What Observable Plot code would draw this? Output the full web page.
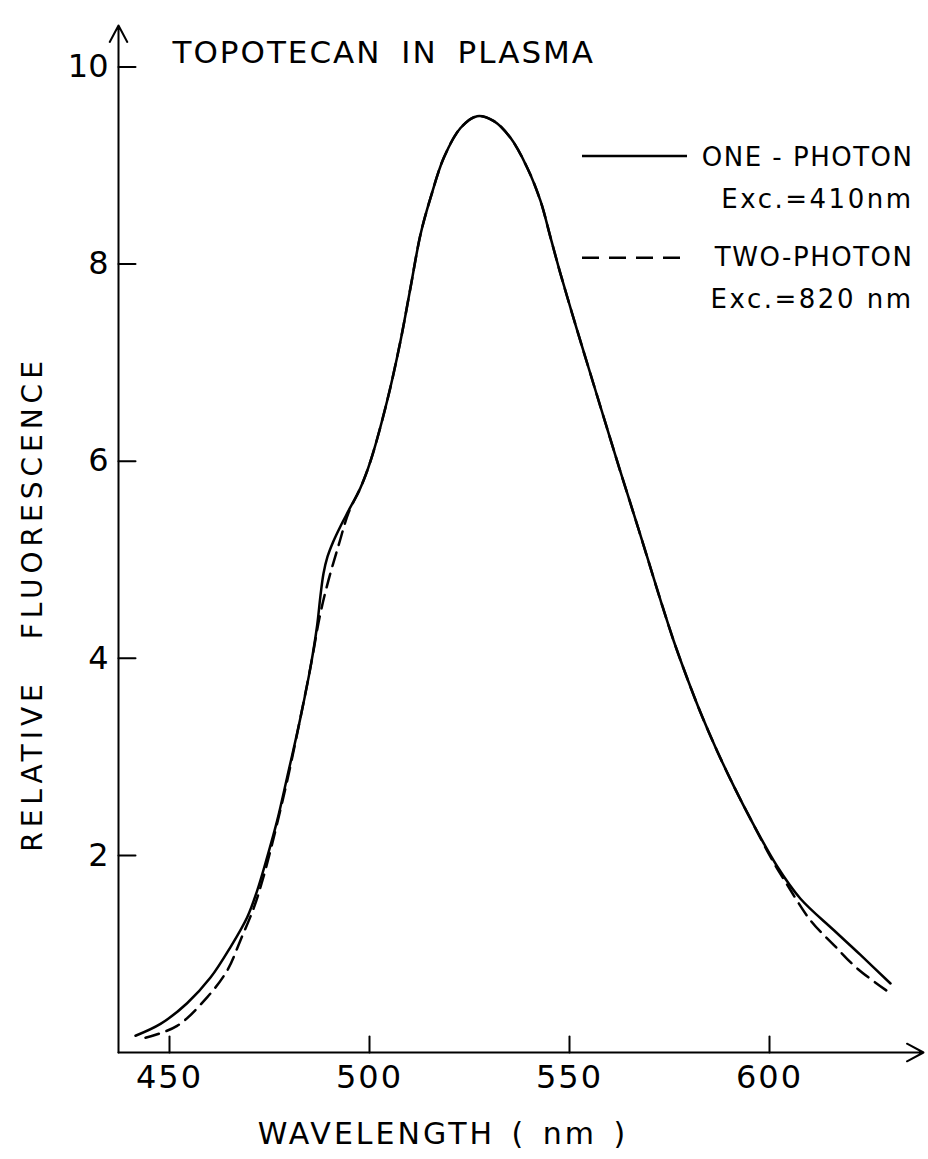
<!DOCTYPE html>
<html><head><meta charset="utf-8">
<script src="https://cdn.jsdelivr.net/npm/d3@7"></script>
<script src="https://cdn.jsdelivr.net/npm/@observablehq/plot@0.6"></script>
<style>body{margin:0;background:#fff} svg{display:block}</style>
</head><body><div id="chart"></div>
<script>
// ---- data ----
const onePhotonNm = [441.5,447.75,454.4,460.25,465.25,469.4,471.9,474.4,476.9,479.4,482.75,485.25,486.9,487.7,488.5,489.5,490.9,492.75,494.8,497.75,500.25,504.4,507.75,510.25,512.75,515.25,518.6,522.75,526.9,531.1,535.25,539.4,542.75,545.25,547.75,551.9,556.1,559.8,562.75,566.1,569.4,572.75,576.1,579.4,582.75,586.9,591.1,595.25,601.9,607.75,616.1,622.75,630.25];
const onePhotonValue = [0.17,0.29,0.50,0.76,1.07,1.37,1.64,1.98,2.35,2.79,3.40,3.91,4.33,4.62,4.86,5.03,5.18,5.34,5.50,5.73,6.00,6.61,7.22,7.76,8.30,8.67,9.08,9.38,9.50,9.45,9.28,8.98,8.64,8.27,7.90,7.33,6.77,6.28,5.89,5.46,5.03,4.59,4.17,3.80,3.45,3.06,2.70,2.37,1.89,1.56,1.24,0.99,0.70];
const twoPhotonNm = [444,451.9,459.4,464.4,467.75,471.1,473.2,475.25,477.3,479.6,482.75,485.25,487.7,489.8,492.3,494.8,497.75,500.25,504.4,507.75,510.25,512.75,515.25,518.6,522.75,526.9,531.1,535.25,539.4,542.75,545.25,547.75,551.9,556.1,559.8,562.75,566.1,569.4,572.75,576.1,579.4,582.75,586.9,591.1,595.25,601,604,610.25,616.1,622,630.25];
const twoPhotonValue = [0.15,0.27,0.56,0.83,1.14,1.47,1.74,2.05,2.39,2.79,3.40,3.91,4.45,4.80,5.15,5.48,5.73,6.00,6.61,7.22,7.76,8.30,8.67,9.08,9.38,9.50,9.45,9.28,8.98,8.64,8.27,7.90,7.33,6.77,6.28,5.89,5.46,5.03,4.59,4.17,3.80,3.45,3.06,2.70,2.37,1.93,1.73,1.34,1.09,0.85,0.60];
const xTicks = [450, 500, 550, 600];
const yTicks = [2, 4, 6, 8, 10];
const titleText = "TOPOTECAN IN PLASMA";
const xTitle = "WAVELENGTH ( nm )";
const yTitle = "RELATIVE FLUORESCENCE";
const legendNames = ["ONE - PHOTON", "TWO-PHOTON"];
const legendSubs = ["Exc.=410nm", "Exc.=820 nm"];

// ---- build tables ----
const one = onePhotonNm.map((x, i) => ({x, y: onePhotonValue[i]}));
const two = twoPhotonNm.map((x, i) => ({x, y: twoPhotonValue[i]}));

const xDomain = [437.25, 638.5];
const yDomain = [0, 10.42];
const FONT = "DejaVu Sans";
const tickShape = {draw(context, l) { context.moveTo(0, 0); context.lineTo(0, -l); }};
const legendText = (label, dy) => Plot.text([label], {
  text: d => d, frameAnchor: "top-right", dx: -10, dy, textAnchor: "end", lineAnchor: "middle", fontSize: 26, fill: "#000"
});

const svg = Plot.plot({
  width: 928, height: 1159,
  marginLeft: 118, marginRight: 5, marginTop: 25, marginBottom: 107,
  x: {domain: xDomain, axis: null},
  y: {domain: yDomain, axis: null},
  style: {fontFamily: FONT, color: "#000", background: "#fff", overflow: "visible"},
  marks: [
    // axes with arrowheads
    Plot.arrow([0], {x1: xDomain[0], y1: 0, x2: xDomain[1], y2: 0, stroke: "#000", strokeWidth: 2, headLength: 14, headAngle: 56}),
    Plot.arrow([0], {x1: xDomain[0], y1: 0, x2: xDomain[0], y2: yDomain[1], stroke: "#000", strokeWidth: 2, headLength: 14, headAngle: 56}),
    // inward ticks
    Plot.vector(xTicks, {x: d => d, y: 0, length: 16, rotate: 0, anchor: "start", shape: tickShape, stroke: "#000", strokeWidth: 2}),
    Plot.vector(yTicks, {x: xDomain[0], y: d => d, length: 17, rotate: 90, anchor: "start", shape: tickShape, stroke: "#000", strokeWidth: 2}),
    // tick labels
    Plot.text(xTicks, {x: d => d, y: 0, text: d => String(d), dy: 25, lineAnchor: "middle", fontSize: 32, fill: "#000"}),
    Plot.text(yTicks, {x: xDomain[0], y: d => d, text: d => String(d), dx: -10, textAnchor: "end", lineAnchor: "middle", fontSize: 32, fill: "#000"}),
    // curves
    Plot.line(one, {x: "x", y: "y", stroke: "#000", strokeWidth: 2.5, curve: "catmull-rom"}),
    Plot.line(two, {x: "x", y: "y", stroke: "#000", strokeWidth: 2.5, strokeDasharray: "14,8", curve: "catmull-rom"}),
    // title and axis titles
    Plot.text([titleText], {text: d => d, frameAnchor: "top-left", dx: 54, dy: 28, textAnchor: "start", lineAnchor: "middle", fontSize: 31, fill: "#000"}),
    Plot.text([xTitle], {text: d => d, frameAnchor: "bottom", dx: -78, dy: 82, textAnchor: "middle", lineAnchor: "middle", fontSize: 30, fill: "#000"}),
    Plot.text([yTitle], {text: d => d, frameAnchor: "left", dx: -85, dy: 65, rotate: -90, textAnchor: "middle", lineAnchor: "middle", fontSize: 28, fill: "#000"}),
    // legend
    Plot.ruleY([9.097], {x1: 553.25, x2: 579.5, stroke: "#000", strokeWidth: 2.5}),
    Plot.ruleY([8.063], {x1: 553.25, x2: 579.5, stroke: "#000", strokeWidth: 2.5, strokeDasharray: "17,10"}),
    legendText(legendNames[0], 132),
    legendText(legendSubs[0], 174),
    legendText(legendNames[1], 232),
    legendText(legendSubs[1], 274)
  ]
});

// letter spacing tweaks
d3.select(svg).selectAll("text").each(function() {
  const t = this.textContent;
  const s = d3.select(this);
  if (t === titleText) s.attr("letter-spacing", 2).attr("word-spacing", 8);
  if (t === xTitle) s.attr("letter-spacing", 3).attr("word-spacing", 4);
  if (t === yTitle) s.attr("letter-spacing", 5).attr("word-spacing", 26);
  if (legendNames.includes(t)) s.attr("letter-spacing", 1.5);
  if (legendSubs.includes(t)) s.attr("letter-spacing", 2.5);
  if (xTicks.map(String).includes(t)) s.attr("letter-spacing", 2);
});
document.getElementById("chart").appendChild(svg);
</script>
</body></html>
